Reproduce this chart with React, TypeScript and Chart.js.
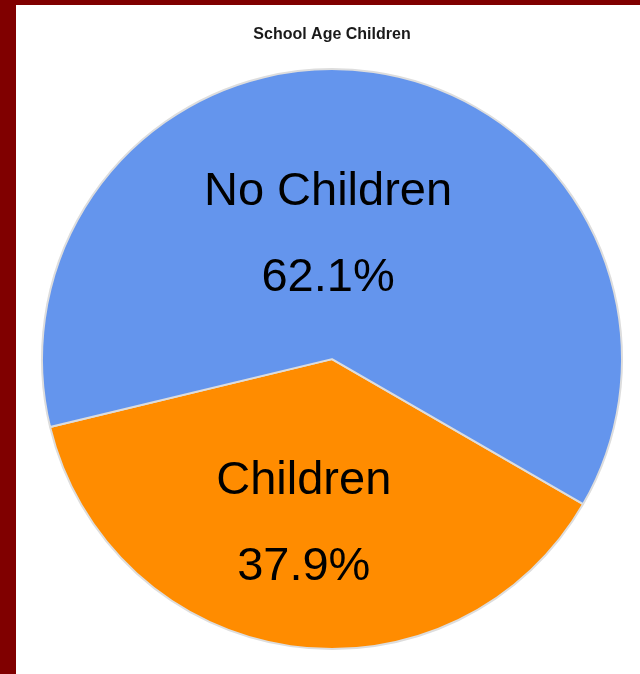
import React, { useEffect, useRef } from "react";
import { Chart, registerables } from "chart.js";

Chart.register(...registerables);

const TITLE = "School Age Children";
const categories = ["Children", "No Children"];
const percentages = [37.9, 62.1];
const sliceColors = ["#FF8C00", "#6495ED"];

// label placement (fraction of radius, angle tweak in degrees) per slice
const labelRadiusFraction = [0.565, 0.44];
const labelAngleShift = [1.7, -10];

const sliceLabels = {
  id: "sliceLabels",
  afterDatasetsDraw(chart: any) {
    const ctx = chart.ctx;
    const meta = chart.getDatasetMeta(0);
    ctx.save();
    ctx.fillStyle = "#000000";
    ctx.font = "47px 'Liberation Sans', Arial, sans-serif";
    ctx.textAlign = "center";
    ctx.textBaseline = "alphabetic";
    meta.data.forEach((arc: any, i: number) => {
      const p = arc.getProps(["x", "y", "startAngle", "endAngle", "outerRadius"], true);
      const mid = (p.startAngle + p.endAngle) / 2 + (labelAngleShift[i] * Math.PI) / 180;
      const r = p.outerRadius * labelRadiusFraction[i];
      const ax = p.x + Math.cos(mid) * r;
      const ay = p.y + Math.sin(mid) * r;
      ctx.fillText(categories[i], ax, ay - 27);
      ctx.fillText(percentages[i].toFixed(1) + "%", ax, ay + 59);
    });
    ctx.restore();
  },
};

export default function App() {
  const ref = useRef<HTMLCanvasElement | null>(null);
  useEffect(() => {
    if (!ref.current) return;
    const chart = new Chart(ref.current, {
      type: "pie",
      data: {
        labels: categories,
        datasets: [
          {
            data: percentages,
            backgroundColor: sliceColors,
            borderColor: "#dddddd",
            borderWidth: 2,
            radius: 290,
          } as any,
        ],
      },
      options: {
        animation: false,
        responsive: false,
        rotation: 120,
        layout: { padding: { left: 8, right: 0, top: 0, bottom: 0 } },
        plugins: {
          legend: { display: false },
          tooltip: { enabled: false },
          title: {
            display: true,
            text: TITLE,
            color: "#1a1a1a",
            font: { family: "'Liberation Sans', Arial, sans-serif", size: 16, weight: "bold" },
            padding: { top: 20, bottom: 0 },
          },
        },
      },
      plugins: [sliceLabels],
    });
    return () => chart.destroy();
  }, []);

  return (
    <div
      style={{
        position: "fixed",
        left: 0,
        top: 0,
        width: 640,
        height: 674,
        background: "#800000",
        overflow: "hidden",
      }}
    >
      <div
        style={{
          position: "absolute",
          left: 16,
          top: 5,
          width: 624,
          height: 669,
          background: "#ffffff",
        }}
      >
        <canvas ref={ref} width={624} height={669} style={{ display: "block" }} />
      </div>
    </div>
  );
}
